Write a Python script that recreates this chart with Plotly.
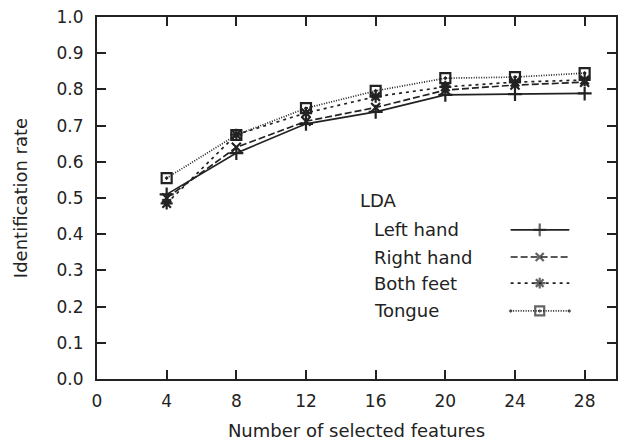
import plotly.graph_objects as go

features = [4, 8, 12, 16, 20, 24, 28]
left_hand = [0.51, 0.624, 0.705, 0.738, 0.785, 0.787, 0.789]
right_hand = [0.50, 0.640, 0.712, 0.750, 0.798, 0.812, 0.820]
both_feet = [0.485, 0.675, 0.735, 0.780, 0.807, 0.820, 0.826]
tongue = [0.555, 0.674, 0.748, 0.796, 0.831, 0.834, 0.845]

series_names = ["Left hand", "Right hand", "Both feet", "Tongue"]
series_vals = [left_hand, right_hand, both_feet, tongue]
dashes = ["solid", "7px,3px", "3px,4px", "1px,1.5px"]
symbols = ["cross-thin", "x-thin", "asterisk", "square-open-dot"]
sizes = [10, 9, 10, 10]
xticks = [0, 4, 8, 12, 16, 20, 24, 28]
yticks = [0.0, 0.1, 0.2, 0.3, 0.4, 0.5, 0.6, 0.7, 0.8, 0.9, 1.0]

FONT = "DejaVu Sans, Liberation Sans, sans-serif"
COL = "#222222"

fig = go.Figure()
for name, vals, d, s, sz in zip(series_names, series_vals, dashes, symbols, sizes):
    fig.add_trace(go.Scatter(
        x=features, y=vals, name=name, mode="lines+markers",
        line=dict(color=COL, width=1.7, dash=d),
        marker=dict(symbol=s, size=sz, color=COL, line=dict(color=COL, width=2.2)),
        showlegend=False,
    ))

# legend drawn manually: text on left, sample on right
leg_y = [0.412, 0.337, 0.265, 0.188]
for name, d, s, sz, yy in zip(series_names, dashes, symbols, sizes, leg_y):
    fig.add_trace(go.Scatter(
        x=[0.797, 0.853, 0.910], y=[yy, yy, yy], mode="lines+markers",
        xaxis="x2", yaxis="y2",
        line=dict(color=COL, width=1.7, dash=d),
        marker=dict(symbol=s, size=[0, sz - 1, 0], color=COL, line=dict(color=COL, width=2.2)),
        showlegend=False, hoverinfo="skip",
    ))
    fig.add_annotation(x=0.530, y=yy, xref="paper", yref="paper", text=name,
                       showarrow=False, xanchor="left", yanchor="middle",
                       font=dict(family=FONT, size=18, color=COL))
fig.add_annotation(x=0.503, y=0.494, xref="paper", yref="paper", text="LDA",
                   showarrow=False, xanchor="left", yanchor="middle",
                   font=dict(family=FONT, size=18, color=COL))

axis_common = dict(showgrid=False, zeroline=False, showline=True, linecolor=COL,
                   linewidth=2, ticks="inside", ticklen=9, tickwidth=1.5,
                   tickcolor=COL, mirror="ticks",
                   tickfont=dict(family=FONT, size=17, color=COL))

fig.update_layout(
    width=622, height=443,
    margin=dict(l=97, r=4, t=17, b=64),
    paper_bgcolor="white", plot_bgcolor="white",
    font=dict(family=FONT, color=COL),
    xaxis=dict(range=[0, 29.8], tickvals=xticks, ticklabelstandoff=6,
               title=dict(text="Number of selected features", font=dict(family=FONT, size=18, color=COL), standoff=14),
               **axis_common),
    yaxis=dict(range=[0, 1.0], tickvals=yticks, tickformat=".1f", ticklabelstandoff=8,
               title=dict(text="Identification rate", font=dict(family=FONT, size=18, color=COL), standoff=24),
               **axis_common),
    xaxis2=dict(range=[0, 1], overlaying="x", visible=False),
    yaxis2=dict(range=[0, 1], overlaying="y", visible=False),
)
fig.write_html("out.html")
